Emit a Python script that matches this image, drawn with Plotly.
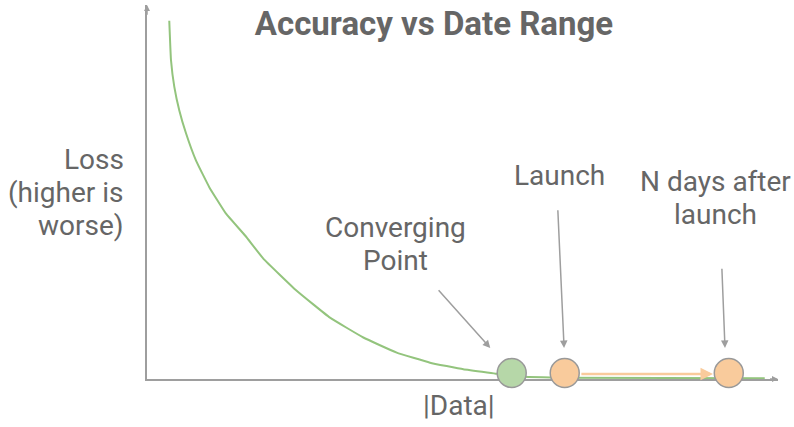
import plotly.graph_objects as go

# ---- data ----
curve_x = [3.53, 3.80, 4.33, 5.12, 6.18, 7.77, 9.87, 12.52, 15.58, 18.43, 23.72, 29.0,
           34.28, 39.57, 44.85, 50.13, 55.42, 57.8, 65.45, 97.9]
curve_y = [95.8, 85.3, 78.1, 71.8, 65.7, 58.4, 51.3, 44.2, 38.3, 32.2, 23.6, 16.4,
           11.1, 7.05, 4.37, 2.6, 1.42, 0.8, 0.35, 0.2]

point_labels = [["Converging", "Point"], ["Launch"], ["N days after", "launch"]]
point_x = [57.8, 66.2, 92.2]
point_y = [1.6, 1.6, 1.6]
point_fill = ["#b6d7a8", "#f9cb9c", "#f9cb9c"]

title_text = "Accuracy vs Date Range"
y_label_lines = ["Loss", "(higher is", "worse)"]
x_label = "|Data|"

GRAY = "#9e9e9e"
TEXT = "#666666"
FONT = "Roboto"
FS = 28

fig = go.Figure()

fig.add_trace(go.Scatter(
    x=curve_x, y=curve_y, mode="lines",
    line=dict(color="#93c47d", width=2, shape="spline", smoothing=0.3),
    cliponaxis=False, hoverinfo="skip", showlegend=False))

fig.add_trace(go.Scatter(
    x=point_x, y=point_y, mode="markers",
    marker=dict(size=29, color=point_fill, line=dict(color="#999999", width=1.5)),
    cliponaxis=False, hoverinfo="skip", showlegend=False))

ann = []
# axis arrowheads
ann.append(dict(x=0, y=100, ax=0, ay=97, xref="x", yref="y", axref="x", ayref="y",
                showarrow=True, arrowhead=2, arrowsize=0.8, arrowwidth=1.5,
                arrowcolor=GRAY, text="", standoff=0))
ann.append(dict(x=100, y=0, ax=98.5, ay=0, xref="x", yref="y", axref="x", ayref="y",
                showarrow=True, arrowhead=2, arrowsize=0.8, arrowwidth=1.5,
                arrowcolor=GRAY, text="", standoff=0))

# orange arrow from launch to N days after launch
ann.append(dict(x=point_x[2] - 2.5, y=1.34, ax=point_x[1] + 2.4, ay=1.34,
                xref="x", yref="y", axref="x", ayref="y",
                showarrow=True, arrowhead=2, arrowsize=1.0, arrowwidth=2.5,
                arrowcolor="#f9cb9c", text="", standoff=0))

# gray callout arrows
tails = [(46.0, 24.1), (65.1, 45.5), (91.1, 29.9)]
heads = [(54.4, 8.3), (66.1, 8.3), (91.6, 8.3)]
for (tx, ty), (hx, hy) in zip(tails, heads):
    ann.append(dict(x=hx, y=hy, ax=tx, ay=ty, xref="x", yref="y", axref="x", ayref="y",
                    showarrow=True, arrowhead=2, arrowsize=1.0, arrowwidth=1.5,
                    arrowcolor=GRAY, text="", standoff=0))

LINE = 33 / 374  # line spacing in paper units


def add_lines(lines, xp, y_first, xanchor="center"):
    for i, t in enumerate(lines):
        ann.append(dict(x=xp, y=y_first - i * LINE, xref="paper", yref="paper", text=t,
                        showarrow=False, xanchor=xanchor, yanchor="middle",
                        font=dict(family=FONT, size=FS, color=TEXT)))


# callout labels (x, y of first line in paper units)
label_pos = [(0.3946, 0.404), (0.653, 0.545), (0.9017, 0.527)]
for lines, (lx, ly) in zip(point_labels, label_pos):
    add_lines(lines, lx, ly)

# axis labels
add_lines(y_label_lines, -0.033, 0.588, xanchor="right")
add_lines([x_label], 0.495, -0.07)

fig.update_layout(
    width=794, height=427,
    margin=dict(l=147, r=16, t=5, b=48),
    paper_bgcolor="white", plot_bgcolor="white",
    title=dict(text="<b>" + title_text + "</b>", x=0.5466, xanchor="center",
               y=0.944, yanchor="middle",
               font=dict(family=FONT, size=33, color=TEXT)),
    xaxis=dict(range=[0, 100], showgrid=False, zeroline=False, showticklabels=False,
               ticks="", showline=True, linecolor=GRAY, linewidth=2, layer="below traces",
               fixedrange=True),
    yaxis=dict(range=[0, 100], showgrid=False, zeroline=False, showticklabels=False,
               ticks="", showline=True, linecolor=GRAY, linewidth=2, layer="below traces",
               fixedrange=True),
    annotations=ann,
    showlegend=False,
)

fig.write_html("out.html", config={"displayModeBar": False},
               post_script="document.body.style.margin='0';")
